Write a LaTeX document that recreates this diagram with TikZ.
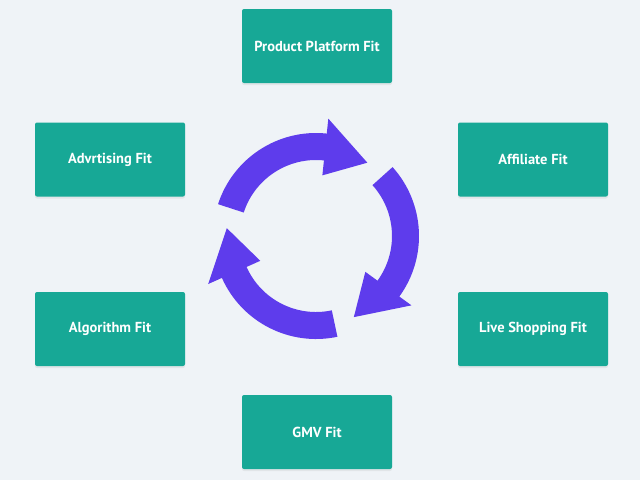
\documentclass[tikz,border=0pt]{standalone}
\usepackage{fontspec}
\setmainfont{PT Sans}
\usetikzlibrary{shadows}
\definecolor{bgcolor}{RGB}{239,243,247}
\definecolor{tealcolor}{RGB}{23,168,150}
\definecolor{arrowcolor}{RGB}{94,60,236}
\tikzset{
fitbox/.style = {fill = tealcolor, text = white, rounded corners = 2pt, minimum width = 150pt, minimum height = 74pt, font = \fontsize{14.5}{16}\selectfont\bfseries, drop shadow = {opacity = 0.12, shadow xshift = 0pt, shadow yshift = -2pt}}
}
\begin{document}
\begin{tikzpicture}[x = 1pt, y = -1pt]
\fill[bgcolor] (0,0) rectangle (640,480);
\useasboundingbox (0,0) rectangle (640,480);
\node[fitbox] (product) at (317,46) {Product Platform Fit};
\node[fitbox] (advert) at (110,159.5) {Advrtising Fit};
\node[fitbox] (affiliate) at (533,159.5) {Affiliate Fit};
\node[fitbox] (algorithm) at (110,329) {Algorithm Fit};
\node[fitbox] (live) at (533,329) {Live Shopping Fit};
\node[fitbox] (gmv) at (317,432) {GMV Fit};
\pgfmathsetmacro\ri{76};
\pgfmathsetmacro\ro{103};
\pgfmathsetmacro\rm{89.5};
\begin{scope}[shift = {(316,236)}, yscale = -1]
\foreach \a in {162,42,-78} {
\pgfmathsetmacro\b{\a-78}
\pgfmathsetmacro\c{\a-107}
\fill [arrowcolor] (\a:\ro) arc [start angle = \a, end angle = \b, radius = \ro] -- (\b:\ro+15) -- (\c:\rm) -- (\b:\ri-15) -- (\b:\ri) arc [start angle = \b, end angle = \a, radius = \ri] -- cycle;
}
\end{scope}
\end{tikzpicture}
\end{document}
